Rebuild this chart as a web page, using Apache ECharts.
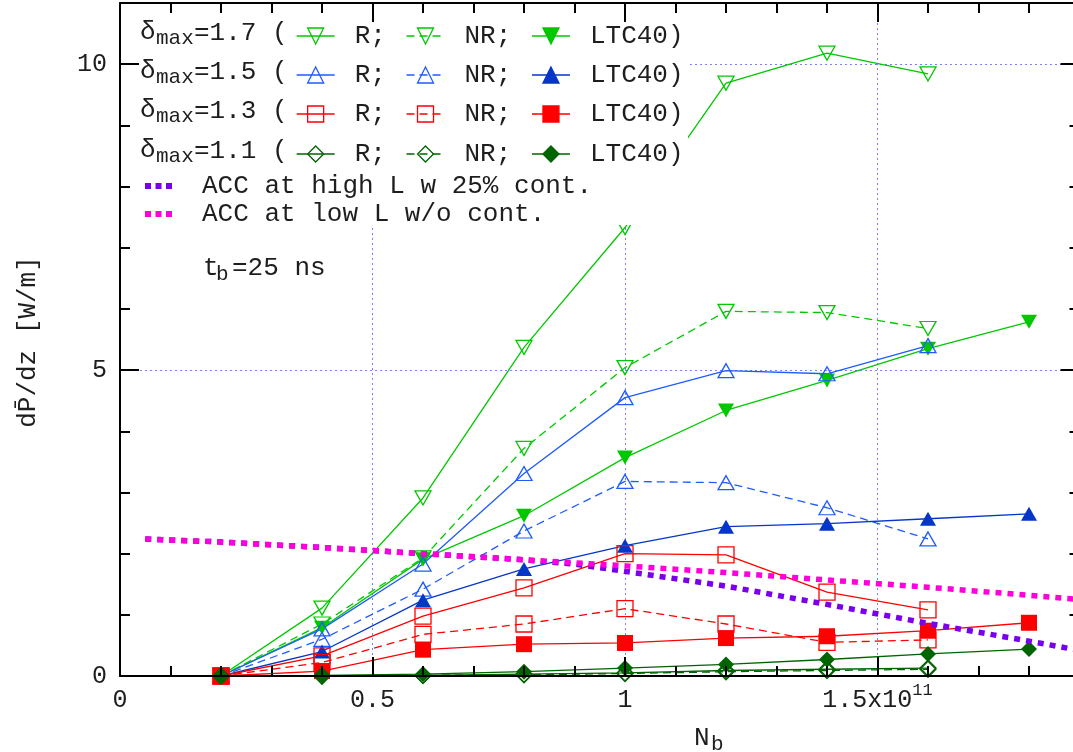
<!DOCTYPE html>
<html><head><meta charset="utf-8">
<script src="https://cdn.jsdelivr.net/npm/echarts@6/dist/echarts.min.js"></script>
<style>html,body{margin:0;padding:0;background:#fff}#c{width:1073px;height:752px}</style>
</head><body><div id="c"></div><script>
// ---- data (N_b in units of 1e11, dP/dz in W/m) ----
const nb = [0.2, 0.4, 0.6, 0.8, 1.0, 1.2, 1.4, 1.6, 1.8];
const d17R   = [0, 1.11, 2.91, 5.37, 7.33, 9.69, 10.18, 9.84];
const d17NR  = [0, 0.85, 1.93, 3.72, 5.04, 5.96, 5.94, 5.68];
const d17LTC = [0, 0.79, 1.91, 2.62, 3.57, 4.34, 4.83, 5.35, 5.79];
const d15R   = [0, 0.77, 1.83, 3.31, 4.55, 4.99, 4.94, 5.40];
const d15NR  = [0, 0.60, 1.42, 2.37, 3.18, 3.16, 2.75, 2.24];
const d15LTC = [0, 0.40, 1.24, 1.75, 2.13, 2.44, 2.49, 2.57, 2.65];
const d13R   = [0, 0.33, 0.98, 1.44, 2.00, 1.98, 1.37, 1.08];
const d13NR  = [0, 0.22, 0.68, 0.85, 1.10, 0.85, 0.55, 0.59];
const d13LTC = [0, 0.08, 0.43, 0.52, 0.54, 0.62, 0.65, 0.74, 0.87];
const d11R   = [0, 0.00, 0.01, 0.03, 0.05, 0.09, 0.11, 0.13];
const d11NR  = [0, 0.00, 0.01, 0.02, 0.04, 0.07, 0.09, 0.11];
const d11LTC = [0, 0.01, 0.03, 0.07, 0.13, 0.19, 0.27, 0.36, 0.44];
const accX    = [0.05, 0.2, 0.4, 0.6, 0.8, 0.9, 1.0, 1.2, 1.4, 1.6, 1.8, 1.9];
const accHigh = [2.24, 2.19, 2.10, 2.00, 1.90, 1.83, 1.71, 1.47, 1.17, 0.86, 0.57, 0.42];
const accLow  = [2.24, 2.19, 2.10, 2.00, 1.90, 1.85, 1.80, 1.69, 1.57, 1.45, 1.32, 1.25];
// tick labels
const xTickText = ['0', '0.5', '1', '1.5x10'];
const xTickExp  = ['', '', '', '11'];
const yTickText = ['0', '5', '10'];

const FONT = '"Liberation Mono", "DejaVu Sans Mono", monospace';
const TXT = '#1e1e1e';
const GREEN = '#00c800', BLUE = '#1f5cff', BLUEF = '#0536c8', RED = '#ff0000', DKG = '#006400';
const MAG = '#ff00dc', PUR = '#7a00ec', GRIDC = '#7c7cff';

function mk(name, ys, color, symbol, rot, open, dashed, size) {
  return {
    name, type: 'line', xAxisIndex: 0, yAxisIndex: 0, z: 2,
    data: ys.map((y, i) => [nb[i], y]),
    symbol, symbolRotate: rot, symbolSize: size, showSymbol: true,
    lineStyle: { color, width: 1.3, type: dashed ? [8, 5] : 'solid' },
    itemStyle: open ? { color: 'rgba(0,0,0,0)', borderColor: color, borderWidth: 1.3 }
                    : { color, borderColor: color, borderWidth: 0 },
    emphasis: { disabled: true }
  };
}
const TRI = [16, 14], SQ = [16, 16], DIA = [16, 16];
const series = [
  mk('d17R', d17R, GREEN, 'triangle', 180, true, false, TRI),
  mk('d17NR', d17NR, GREEN, 'triangle', 180, true, true, TRI),
  mk('d17L', d17LTC, GREEN, 'triangle', 180, false, false, TRI),
  mk('d15R', d15R, BLUE, 'triangle', 0, true, false, TRI),
  mk('d15NR', d15NR, BLUE, 'triangle', 0, true, true, TRI),
  mk('d15L', d15LTC, BLUEF, 'triangle', 0, false, false, TRI),
  mk('d13R', d13R, RED, 'rect', 0, true, false, SQ),
  mk('d13NR', d13NR, RED, 'rect', 0, true, true, SQ),
  mk('d13L', d13LTC, RED, 'rect', 0, false, false, SQ),
  mk('d11R', d11R, DKG, 'diamond', 0, true, false, DIA),
  mk('d11NR', d11NR, DKG, 'diamond', 0, true, true, DIA),
  mk('d11L', d11LTC, DKG, 'diamond', 0, false, false, DIA),
  { name: 'accHigh', type: 'line', z: 3, symbol: 'none', showSymbol: false,
    data: accX.map((x, i) => [x, accHigh[i]]),
    itemStyle: { color: PUR }, lineStyle: { color: PUR, width: 5.5, type: [6, 6], cap: 'butt' } },
  { name: 'accLow', type: 'line', z: 3, symbol: 'none', showSymbol: false,
    data: accX.map((x, i) => [x, accLow[i]]),
    itemStyle: { color: MAG }, lineStyle: { color: MAG, width: 5.5, type: [6, 6], cap: 'butt' } }
];

const rows = [
  { d: '1.7', y: 33, key: 'd17' },
  { d: '1.5', y: 72, key: 'd15' },
  { d: '1.3', y: 111, key: 'd13' },
  { d: '1.1', y: 151, key: 'd11' }
];
const legends = rows.map(r => ({
  left: 296, top: r.y - 10, padding: 0, orient: 'horizontal', z: 21,
  itemWidth: 38, itemHeight: 20, itemGap: 20, selectedMode: false,
  data: [r.key + 'R', r.key + 'NR', r.key + 'L'],
  formatter: n => '{t|' + ({ R: 'R;', NR: 'NR;', L: 'LTC40)' })[n.replace(r.key, '')] + '}',
  lineStyle: { width: 1.3 },
  itemStyle: { borderWidth: 1.3 },
  textStyle: { rich: { t: { fontFamily: FONT, fontSize: 26, color: TXT, lineHeight: 20, padding: [0, 0, 0, 15] } } }
}));
const accLeg = [
  { name: 'accHigh', y: 183, label: 'ACC at high L w 25% cont.' },
  { name: 'accLow', y: 211, label: 'ACC at low L w/o cont.' }
].map(a => ({
  left: 145, top: a.y - 10, padding: 0, z: 21, selectedMode: false,
  itemWidth: 27, itemHeight: 6,
  data: [{ name: a.name, icon: 'path://M0,0h6v6h-6zM10.5,0h6v6h-6zM21,0h6v6h-6z' }],
  formatter: () => '{t|' + a.label + '}',
  itemStyle: { borderWidth: 0 },
  textStyle: { rich: { t: { fontFamily: FONT, fontSize: 26, color: TXT, lineHeight: 20, padding: [0, 0, 0, 25] } } }
}));

const graphics = [
  { type: 'rect', z: 5, shape: { x: 122, y: 5, width: 566, height: 220 }, style: { fill: '#fff' } },
  { type: 'text', z: 21, x: 28, y: 342, rotation: Math.PI / 2,
    style: { text: 'dP\u0304/dz [W/m]', fontFamily: FONT, fontSize: 26, fill: TXT, align: 'center', verticalAlign: 'middle' } },
  { type: 'text', z: 21, x: 694, y: 738, style: { text: 'N', fontFamily: FONT, fontSize: 26, fill: TXT, align: 'left', verticalAlign: 'middle' } },
  { type: 'text', z: 21, x: 711, y: 744, style: { text: 'b', fontFamily: FONT, fontSize: 21, fill: TXT, align: 'left', verticalAlign: 'middle' } },
  { type: 'text', z: 21, x: 203, y: 268, style: { text: 't', fontFamily: FONT, fontSize: 26, fill: TXT, align: 'left', verticalAlign: 'middle' } },
  { type: 'text', z: 21, x: 216, y: 274, style: { text: 'b', fontFamily: FONT, fontSize: 21, fill: TXT, align: 'left', verticalAlign: 'middle' } },
  { type: 'text', z: 21, x: 232, y: 268, style: { text: '=25 ns', fontFamily: FONT, fontSize: 26, fill: TXT, align: 'left', verticalAlign: 'middle' } }
];
rows.forEach(r => {
  graphics.push({ type: 'text', z: 21, x: 140, y: r.y - 1, style: { text: '\u03b4', fontFamily: FONT, fontSize: 26, fill: TXT, align: 'left', verticalAlign: 'middle' } });
  graphics.push({ type: 'text', z: 21, x: 156, y: r.y + 5, style: { text: 'max', fontFamily: FONT, fontSize: 21, fill: TXT, align: 'left', verticalAlign: 'middle' } });
  graphics.push({ type: 'text', z: 21, x: 194, y: r.y, style: { text: '=' + r.d + ' (', fontFamily: FONT, fontSize: 26, fill: TXT, align: 'left', verticalAlign: 'middle' } });
});

const XMIN = 0, XMAX = 1.9, YMIN = 0, YMAX = 11;
const lineBlack = { show: true, onZero: false, lineStyle: { color: '#000', width: 2 } };
const noLine = { show: false, onZero: false };
function xAx(pos, interval, tickLen, opts) {
  return Object.assign({
    type: 'value', min: XMIN, max: XMAX, interval, position: pos, z: 20,
    axisLine: noLine, axisTick: { show: true, inside: true, length: tickLen, lineStyle: { color: '#000', width: 2 } },
    axisLabel: { show: false }, splitLine: { show: false }, minorTick: { show: false }
  }, opts || {});
}
function yAx(pos, interval, tickLen, opts) {
  return Object.assign({
    type: 'value', min: YMIN, max: YMAX, interval, position: pos, z: 20,
    axisLine: noLine, axisTick: { show: true, inside: true, length: tickLen, lineStyle: { color: '#000', width: 2 } },
    axisLabel: { show: false }, splitLine: { show: false }, minorTick: { show: false }
  }, opts || {});
}
const xAxes = [
  xAx('bottom', 0.5, 19, {
    axisLine: lineBlack,
    axisLabel: {
      show: true, margin: 4, color: TXT,
      formatter: v => {
        const i = Math.round(v / 0.5);
        if (Math.abs(v - i * 0.5) > 1e-6 || i >= xTickText.length) return '';
        return '{m|' + xTickText[i] + '}' + (xTickExp[i] ? '{s|' + xTickExp[i] + '}' : '');
      },
      rich: {
        m: { fontFamily: FONT, fontSize: 25, color: TXT, lineHeight: 40 },
        s: { fontFamily: FONT, fontSize: 17, color: TXT, lineHeight: 17, padding: [0, 0, 20, 0] }
      }
    }
  }),
  xAx('bottom', 0.1, 10),
  xAx('top', 0.5, 19, { axisLine: lineBlack }),
  xAx('top', 0.1, 10),
  xAx('bottom', 0.5, 0, { z: 1, axisTick: { show: false },
    splitLine: { show: true, lineStyle: { color: GRIDC, width: 1, type: [2, 3] } } })
];
const yAxes = [
  yAx('left', 5, 19, {
    axisLine: lineBlack,
    axisLabel: {
      show: true, margin: 13, color: TXT, fontFamily: FONT, fontSize: 25,
      formatter: v => {
        const i = Math.round(v / 5);
        if (Math.abs(v - i * 5) > 1e-6 || i >= yTickText.length) return '';
        return yTickText[i];
      }
    }
  }),
  yAx('left', 1, 10),
  yAx('right', 5, 19, { axisLine: lineBlack }),
  yAx('right', 1, 10),
  yAx('left', 5, 0, { z: 1, axisTick: { show: false },
    splitLine: { show: true, lineStyle: { color: GRIDC, width: 1, type: [2, 3] } } })
];

const chart = echarts.init(document.getElementById('c'), null, { renderer: 'canvas' });
chart.setOption({
  animation: false,
  backgroundColor: '#fff',
  grid: { left: 120, top: 3, right: -6.5, bottom: 76, containLabel: false, outerBoundsMode: 'none' },
  xAxis: xAxes,
  yAxis: yAxes,
  legend: legends.concat(accLeg),
  graphic: graphics,
  series
});
</script></body></html>
